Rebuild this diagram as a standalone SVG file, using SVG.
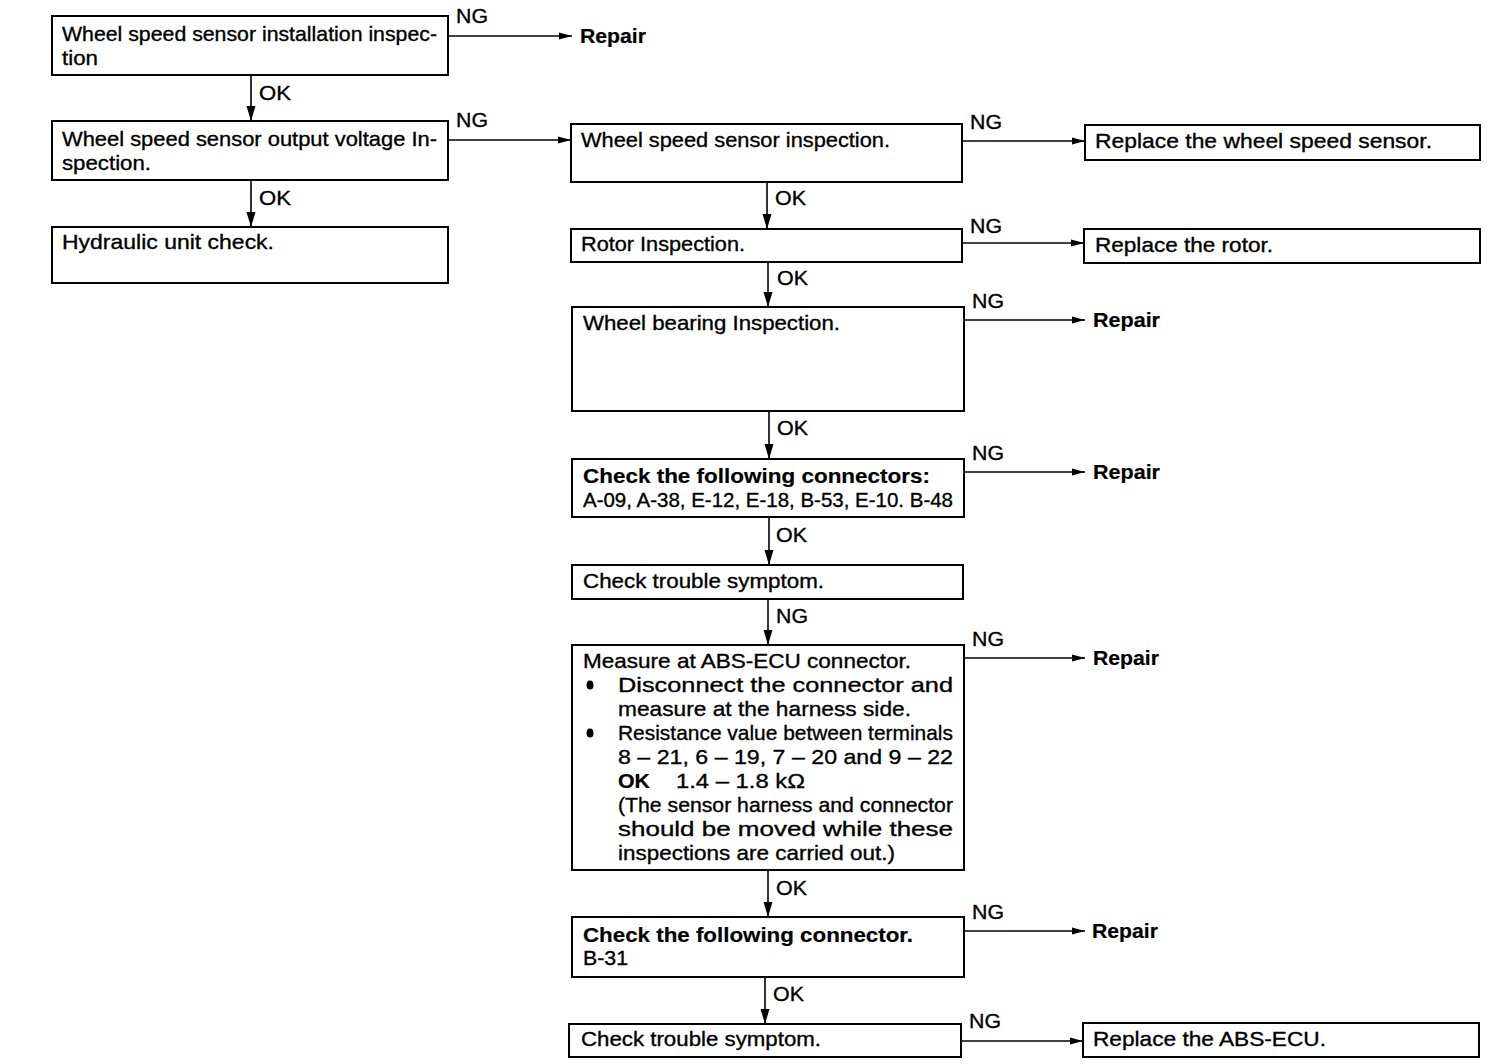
<svg xmlns="http://www.w3.org/2000/svg" width="1504" height="1064" viewBox="0 0 1504 1064">
<defs>
<marker id="ah" markerWidth="14" markerHeight="10" refX="13" refY="5" orient="auto" markerUnits="userSpaceOnUse">
<path d="M0,1.5 L13,5 L0,8.5 Z" fill="#000"/>
</marker>
<marker id="dv" markerWidth="12" markerHeight="18" refX="6" refY="17" orient="0" markerUnits="userSpaceOnUse">
<path d="M1.5,2 L10.5,2 L6,17 Z" fill="#000"/>
</marker>
<style>
rect.box{fill:#fff;stroke:#000;stroke-width:2}
text{font-family:"Liberation Sans",Arial,sans-serif;font-size:21px;fill:#000;stroke:#000;stroke-width:0.35}
text.b{font-weight:bold;stroke-width:0.2}
text.lbl{font-size:21px}
line.c{stroke:#000;stroke-width:1.6;fill:none}
line.h{marker-end:url(#ah)}
line.v{marker-end:url(#dv)}
</style>
</defs>

<g id="connectors">
<line class="c h" x1="448" y1="36" x2="572" y2="36" stroke-width="2.5"/>
<line class="c h" x1="448" y1="140" x2="571" y2="140"/>
<line class="c v" x1="251" y1="75" x2="251" y2="121"/>
<line class="c v" x1="251" y1="180" x2="251" y2="227"/>
<line class="c h" x1="962" y1="141" x2="1085" y2="141"/>
<line class="c h" x1="962" y1="243" x2="1084" y2="243" stroke-width="2.5"/>
<line class="c v" x1="767" y1="182" x2="767" y2="229"/>
<line class="c v" x1="768" y1="262" x2="768" y2="307"/>
<line class="c h" x1="964" y1="320" x2="1085" y2="320"/>
<line class="c v" x1="769" y1="411" x2="769" y2="459"/>
<line class="c h" x1="964" y1="472" x2="1085" y2="472"/>
<line class="c v" x1="769" y1="517" x2="769" y2="565"/>
<line class="c v" x1="768" y1="599" x2="768" y2="645"/>
<line class="c h" x1="964" y1="658" x2="1085" y2="658"/>
<line class="c v" x1="768" y1="870" x2="768" y2="917"/>
<line class="c h" x1="964" y1="931" x2="1085" y2="931"/>
<line class="c v" x1="765" y1="977" x2="765" y2="1024"/>
<line class="c h" x1="961" y1="1041" x2="1083" y2="1041"/>

<text class="lbl" x="456" y="23" textLength="32" lengthAdjust="spacingAndGlyphs">NG</text>
<text class="lbl" x="456" y="127" textLength="32" lengthAdjust="spacingAndGlyphs">NG</text>
<text class="lbl" x="259" y="100" textLength="32" lengthAdjust="spacingAndGlyphs">OK</text>
<text class="lbl" x="259" y="205" textLength="32" lengthAdjust="spacingAndGlyphs">OK</text>
<text class="lbl" x="970" y="129" textLength="32" lengthAdjust="spacingAndGlyphs">NG</text>
<text class="lbl" x="970" y="233" textLength="32" lengthAdjust="spacingAndGlyphs">NG</text>
<text class="lbl" x="775" y="205" textLength="31" lengthAdjust="spacingAndGlyphs">OK</text>
<text class="lbl" x="777" y="285" textLength="31" lengthAdjust="spacingAndGlyphs">OK</text>
<text class="lbl" x="972" y="308" textLength="32" lengthAdjust="spacingAndGlyphs">NG</text>
<text class="lbl" x="777" y="435" textLength="31" lengthAdjust="spacingAndGlyphs">OK</text>
<text class="lbl" x="972" y="460" textLength="32" lengthAdjust="spacingAndGlyphs">NG</text>
<text class="lbl" x="776" y="542" textLength="31" lengthAdjust="spacingAndGlyphs">OK</text>
<text class="lbl" x="776" y="623" textLength="32" lengthAdjust="spacingAndGlyphs">NG</text>
<text class="lbl" x="972" y="646" textLength="32" lengthAdjust="spacingAndGlyphs">NG</text>
<text class="lbl" x="776" y="895" textLength="31" lengthAdjust="spacingAndGlyphs">OK</text>
<text class="lbl" x="972" y="919" textLength="32" lengthAdjust="spacingAndGlyphs">NG</text>
<text class="lbl" x="773" y="1001" textLength="31" lengthAdjust="spacingAndGlyphs">OK</text>
<text class="lbl" x="969" y="1028" textLength="32" lengthAdjust="spacingAndGlyphs">NG</text>

<text class="b" x="580" y="43" textLength="66" lengthAdjust="spacingAndGlyphs">Repair</text>
<text class="b" x="1093" y="327" textLength="67" lengthAdjust="spacingAndGlyphs">Repair</text>
<text class="b" x="1093" y="479" textLength="67" lengthAdjust="spacingAndGlyphs">Repair</text>
<text class="b" x="1093" y="665" textLength="66" lengthAdjust="spacingAndGlyphs">Repair</text>
<text class="b" x="1092" y="938" textLength="66" lengthAdjust="spacingAndGlyphs">Repair</text>
</g>

<g id="n1">
<rect class="box" x="52" y="16" width="396" height="59"/>
<text x="62" y="41" textLength="375" lengthAdjust="spacingAndGlyphs">Wheel speed sensor installation inspec-</text>
<text x="62" y="65" textLength="36" lengthAdjust="spacingAndGlyphs">tion</text>
</g>
<g id="n2">
<rect class="box" x="52" y="121" width="396" height="59"/>
<text x="62" y="146" textLength="375" lengthAdjust="spacingAndGlyphs">Wheel speed sensor output voltage In-</text>
<text x="62" y="170" textLength="89" lengthAdjust="spacingAndGlyphs">spection.</text>
</g>
<g id="n3">
<rect class="box" x="52" y="227" width="396" height="56"/>
<text x="62" y="249" textLength="212" lengthAdjust="spacingAndGlyphs">Hydraulic  unit  check.</text>
</g>
<g id="n4">
<rect class="box" x="571" y="124" width="391" height="58"/>
<text x="581" y="147" textLength="309" lengthAdjust="spacingAndGlyphs">Wheel speed sensor inspection.</text>
</g>
<g id="n5">
<rect class="box" x="1085" y="125" width="395" height="35"/>
<text x="1095" y="148" textLength="337" lengthAdjust="spacingAndGlyphs">Replace  the  wheel  speed  sensor.</text>
</g>
<g id="n6">
<rect class="box" x="571" y="229" width="391" height="33"/>
<text x="581" y="251" textLength="164" lengthAdjust="spacingAndGlyphs">Rotor Inspection.</text>
</g>
<g id="n7">
<rect class="box" x="1084" y="229" width="396" height="34"/>
<text x="1095" y="252" textLength="178" lengthAdjust="spacingAndGlyphs">Replace  the  rotor.</text>
</g>
<g id="n8">
<rect class="box" x="572" y="307" width="392" height="104"/>
<text x="583" y="330" textLength="257" lengthAdjust="spacingAndGlyphs">Wheel  bearing  Inspection.</text>
</g>
<g id="n9">
<rect class="box" x="572" y="459" width="392" height="58"/>
<text class="b" x="583" y="483" textLength="347" lengthAdjust="spacingAndGlyphs">Check  the  following  connectors:</text>
<text x="583" y="507" textLength="370" lengthAdjust="spacingAndGlyphs">A-09, A-38, E-12, E-18, B-53, E-10. B-48</text>
</g>
<g id="n10">
<rect class="box" x="572" y="565" width="391" height="34"/>
<text x="583" y="588" textLength="241" lengthAdjust="spacingAndGlyphs">Check  trouble  symptom.</text>
</g>
<g id="n11">
<rect class="box" x="572" y="645" width="392" height="225"/>
<text x="583" y="668" textLength="328" lengthAdjust="spacingAndGlyphs">Measure  at  ABS-ECU  connector.</text>
<ellipse cx="590" cy="685" rx="3.5" ry="4.5" fill="#000"/>
<text x="618" y="692" textLength="335" lengthAdjust="spacingAndGlyphs">Disconnect   the   connector   and</text>
<text x="618" y="716" textLength="293" lengthAdjust="spacingAndGlyphs">measure  at  the  harness  side.</text>
<ellipse cx="590" cy="733" rx="3.5" ry="4.5" fill="#000"/>
<text x="618" y="740" textLength="335" lengthAdjust="spacingAndGlyphs">Resistance value between terminals</text>
<text x="618" y="764" textLength="335" lengthAdjust="spacingAndGlyphs">8 – 21, 6 – 19, 7 – 20 and 9 – 22</text>
<text class="b" x="618" y="788" textLength="32" lengthAdjust="spacingAndGlyphs">OK</text>
<text x="676" y="788" textLength="129" lengthAdjust="spacingAndGlyphs">1.4 – 1.8 kΩ</text>
<text x="618" y="812" textLength="335" lengthAdjust="spacingAndGlyphs">(The sensor harness and connector</text>
<text x="618" y="836" textLength="335" lengthAdjust="spacingAndGlyphs">should   be   moved   while   these</text>
<text x="618" y="860" textLength="277" lengthAdjust="spacingAndGlyphs">inspections  are  carried  out.)</text>
</g>
<g id="n12">
<rect class="box" x="572" y="917" width="392" height="60"/>
<text class="b" x="583" y="942" textLength="330" lengthAdjust="spacingAndGlyphs">Check  the  following  connector.</text>
<text x="583" y="965" textLength="45" lengthAdjust="spacingAndGlyphs">B-31</text>
</g>
<g id="n13">
<rect class="box" x="569" y="1024" width="392" height="33"/>
<text x="581" y="1046" textLength="240" lengthAdjust="spacingAndGlyphs">Check  trouble  symptom.</text>
</g>
<g id="n14">
<rect class="box" x="1083" y="1023" width="396" height="34"/>
<text x="1093" y="1046" textLength="233" lengthAdjust="spacingAndGlyphs">Replace  the  ABS-ECU.</text>
</g>
</svg>
